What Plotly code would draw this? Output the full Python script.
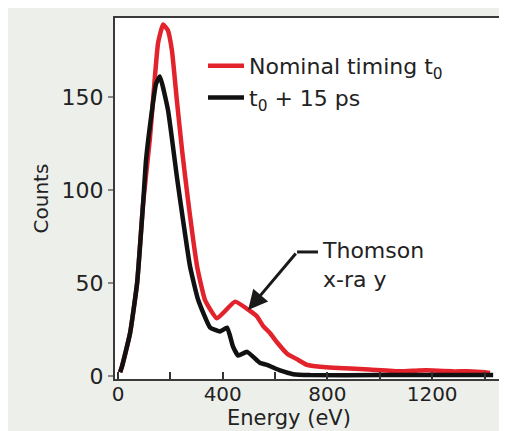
import plotly.graph_objects as go

# Nominal timing t0 (red)
energy_nominal = [8, 15, 46, 73, 96, 122, 141, 153, 172, 190, 206, 225, 245, 267, 302, 332, 378,
                  447, 504, 531, 554, 581, 608, 646, 684, 722, 772, 887, 960, 1078, 1150,
                  1204, 1280, 1334, 1400, 1421]
counts_nominal = [2, 5, 23, 50, 93, 128, 161, 179, 189, 186, 175, 148, 121, 95, 59, 41, 31,
                  40, 35, 32, 27, 23, 18, 12, 9, 6, 5, 4, 3.5, 2.5, 3,
                  3, 2.5, 2.5, 2, 1.6]

# t0 + 15 ps (black)
energy_delayed = [8, 15, 46, 73, 96, 107, 130, 145, 160, 191, 225, 237, 275, 306, 352, 390, 417,
                  439, 459, 493, 543, 569, 619, 669, 734, 1000, 1433]
counts_delayed = [2, 5, 23, 50, 93, 116, 143, 157, 161, 143, 107, 95, 59, 41, 26, 24, 26,
                  16, 11, 13, 7, 6, 3, 1, 0.5, 0.5, 0.5]

y_tickvals = [0, 50, 100, 150]

arrow_tip = (497, 35.5)
arrow_bend = (684, 66.7)
arrow_end_x = 764

FONT = "DejaVu Sans"
TXT = "#222222"

fig = go.Figure()
fig.add_trace(go.Scatter(x=energy_nominal, y=counts_nominal, mode="lines",
                         name="Nominal timing t<sub>0</sub>",
                         line=dict(color="#e2232b", width=4.5, shape="spline", smoothing=0.4)))
fig.add_trace(go.Scatter(x=energy_delayed, y=counts_delayed, mode="lines",
                         name="t<sub>0</sub> + 15 ps",
                         line=dict(color="#111111", width=4.5, shape="spline", smoothing=0.4)))

W, H = 507, 431
OFF = 8  # page body margin
L, R, T, B = 107, 14, 10, 60
pw, ph = W - L - R, H - T - B

def px_x(p):
    return (p - OFF - L) / pw

def px_y(p):
    return (H - B - (p - OFF)) / ph

fig.update_layout(
    width=W, height=H,
    margin=dict(l=L, r=R, t=T, b=B, pad=0),
    paper_bgcolor="#edefeb",
    plot_bgcolor="white",
    font=dict(family=FONT, size=22, color=TXT),
    showlegend=True,
    legend=dict(x=px_x(203), y=px_y(45), xanchor="left", yanchor="top",
                bgcolor="rgba(0,0,0,0)", font=dict(family=FONT, size=22, color=TXT),
                itemwidth=36, tracegroupgap=0),
    shapes=[
        dict(type="line", xref="x", yref="y", x0=arrow_bend[0], y0=arrow_bend[1],
             x1=arrow_end_x, y1=arrow_bend[1], line=dict(color="#1a1a1a", width=3)),
    ],
    annotations=[
        dict(x=arrow_tip[0], y=arrow_tip[1], ax=arrow_bend[0], ay=arrow_bend[1],
             xref="x", yref="y", axref="x", ayref="y", text="", showarrow=True,
             arrowhead=2, arrowsize=1.3, arrowwidth=3, arrowcolor="#1a1a1a"),
        dict(x=772, y=59.5, xref="x", yref="y", text="Thomson<br>x-ra y", showarrow=False,
             xanchor="left", yanchor="middle", align="left",
             font=dict(family=FONT, size=22, color=TXT)),
        dict(x=px_x(289), y=px_y(418), xref="paper", yref="paper", text="Energy (eV)",
             showarrow=False, xanchor="center", yanchor="middle",
             font=dict(family=FONT, size=21, color=TXT)),
    ],
)

fig.update_xaxes(range=[-11.5, 1463], tick0=0, dtick=400,
                 ticks="inside", ticklen=7, tickwidth=1.5, tickcolor="#333333",
                 minor=dict(dtick=200, tick0=0, ticks="inside", ticklen=7, tickwidth=1.5,
                            tickcolor="#333333", showgrid=False),
                 showline=True, linecolor="#3a3a3a", linewidth=2, mirror=True,
                 showgrid=False, zeroline=False, automargin=False,
                 ticklabelstandoff=-4,
                 tickfont=dict(family=FONT, size=20, color=TXT))
fig.update_yaxes(range=[-1.6, 192.5], tickvals=y_tickvals,
                 ticks="outside", ticklen=5, tickwidth=2, tickcolor="#888888",
                 showline=True, linecolor="#3a3a3a", linewidth=2, mirror=True,
                 showgrid=False, zeroline=False, automargin=False,
                 tickfont=dict(family=FONT, size=22, color=TXT),
                 title=dict(text="Counts", standoff=8, font=dict(family=FONT, size=20, color=TXT)))

fig.write_html("out.html")
